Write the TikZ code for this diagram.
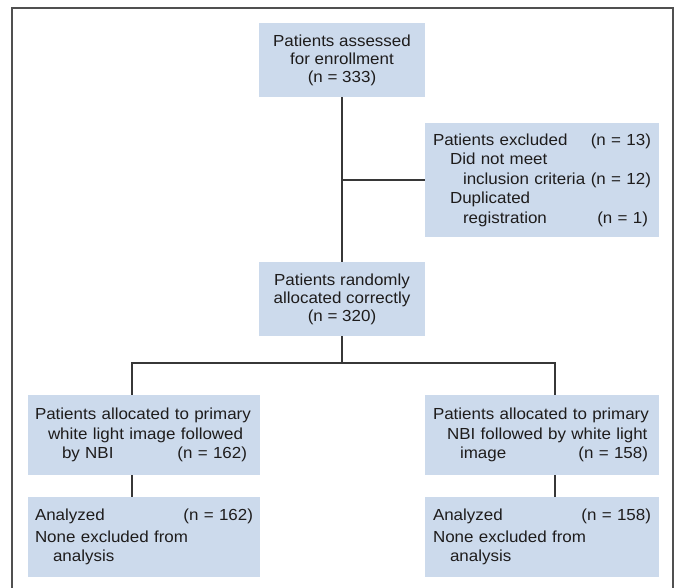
\documentclass[tikz,border=0pt]{standalone}
\usepackage{fontspec}
\setmainfont[FakeStretch=1.06]{Liberation Sans}
\definecolor{boxfill}{RGB}{204,218,236}
\definecolor{linec}{RGB}{55,55,55}
\definecolor{framec}{RGB}{80,80,80}
\definecolor{txt}{RGB}{30,28,28}
\tikzset{
  box/.style={fill=boxfill, draw=none, inner ysep=0pt, text=txt},
  cbox/.style={box, align=center, inner xsep=0pt, minimum width=166pt, minimum height=74pt,
    font=\fontsize{16}{18}\selectfont},
  lbox/.style={box, align=left, font=\fontsize{16}{19.5}\selectfont},
  conn/.style={draw=linec, line width=1.2pt},
}
\begin{document}
\begin{tikzpicture}[x=1pt, y=-1pt]
\useasboundingbox (0,0) rectangle (679,587);
\draw[framec, line width=1.1pt] (12,600) -- (12,8) -- (673,8) -- (673,600);

\node[cbox] (b1) at (342,60) {Patients assessed\\for enrollment\\(n = 333)};
\node[cbox] (b3) at (342,299) {Patients randomly\\allocated correctly\\(n = 320)};

\node[lbox, inner xsep=8pt, text width=218pt, minimum height=114pt] (ex) at (542,180)
  {Patients excluded\hfill(n = 13)\hspace*{3pt}\\
   \hspace*{17pt}Did not meet\\
   \hspace*{30pt}inclusion criteria\hfill(n = 12)\hspace*{3pt}\\
   \hspace*{17pt}Duplicated\\
   \hspace*{30pt}registration\hfill(n = 1)\hspace*{3pt}};

\node[lbox, inner xsep=7pt, text width=218pt, minimum height=80pt] (l4) at (144,435)
  {Patients allocated to primary\\
   \hspace*{13pt}white light image followed\\
   \hspace*{27pt}by NBI\hfill(n = 162)\hspace*{6pt}};
\node[lbox, inner xsep=7pt, text width=218pt, minimum height=80pt] (l5) at (144,537)
  {Analyzed\hfill(n = 162)\hspace*{6pt}\\[2.5pt]
   None excluded from\\
   \hspace*{18pt}analysis};

\node[lbox, inner xsep=8pt, text width=218pt, minimum height=80pt] (r4) at (542,435)
  {Patients allocated to primary\\
   \hspace*{14pt}NBI followed by white light\\
   \hspace*{27pt}image\hfill(n = 158)\hspace*{3pt}};
\node[lbox, inner xsep=8pt, text width=218pt, minimum height=80pt] (r5) at (542,537)
  {Analyzed\hfill(n = 158)\hspace*{3pt}\\[2.5pt]
   None excluded from\\
   \hspace*{17pt}analysis};

\coordinate (sp) at (342,363);
\coordinate (lj) at (132,363);
\coordinate (rj) at (555,363);

\draw[conn] (b1.south) -- (b3.north);
\draw[conn] (b1.south |- ex.west) -- (ex.west);
\draw[conn] (b3.south) -- (sp);
\draw[conn] (lj |- l4.north) -- (lj) -- (rj) -- (rj |- r4.north);
\draw[conn] (lj |- l4.south) -- (lj |- l5.north);
\draw[conn] (rj |- r4.south) -- (rj |- r5.north);
\end{tikzpicture}
\end{document}
